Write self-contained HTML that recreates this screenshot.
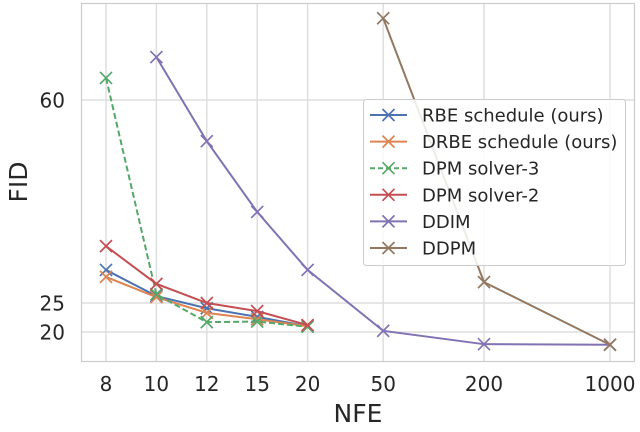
<!DOCTYPE html>
<html><head><meta charset="utf-8"><style>
html,body{margin:0;padding:0;background:#fff;}
svg{display:block;font-family:"DejaVu Sans","Liberation Sans",sans-serif;}
</style></head><body>
<svg id="chart" width="640" height="432" viewBox="0 0 640 432" xmlns="http://www.w3.org/2000/svg">
<g id="grid"></g>
<g id="series"></g>
<rect x="81.5" y="3.5" width="553" height="358" fill="none" stroke="#cccccc" stroke-width="1.2"/>
<g id="ticks"></g>
<text x="0" y="0" transform="translate(27,182) rotate(-90)" text-anchor="middle" font-size="25" fill="#262626">FID</text>
<text x="358" y="422" text-anchor="middle" font-size="25" fill="#262626">NFE</text>
<g id="legend"></g>
</svg>
<script>
const categories = ["8","10","12","15","20","50","200","1000"];
const categoryPos = [0,1,2,3,4,5.5,7.5,10];
const yTicks = [20,25,60];
const seriesNames = ["RBE schedule (ours)","DRBE schedule (ours)","DPM solver-3","DPM solver-2","DDIM","DDPM"];
const seriesColors = ["#4c72b0","#dd8452","#55a868","#c44e52","#8172b3","#937860"];
const seriesDashed = [false,false,true,false,false,false];
const rbeValues = [30.7,26.2,24.1,22.6,21.0,null,null,null];
const drbeValues = [29.5,26.0,23.3,22.2,21.0,null,null,null];
const dpm3Values = [63.8,26.5,21.7,21.8,20.9,null,null,null];
const dpm2Values = [34.8,28.3,25.0,23.6,21.2,null,null,null];
const ddimValues = [null,67.4,52.9,40.7,30.7,20.2,17.9,17.8];
const ddpmValues = [null,null,null,null,null,74.1,28.6,17.8];
const allSeries = [rbeValues,drbeValues,dpm3Values,dpm2Values,ddimValues,ddpmValues];

const NS="http://www.w3.org/2000/svg";
function xs(p){return 106+p*50.4;}
function ys(v){return 332-(v-20)*5.8;}
function mk(tag,attrs,parent){const e=document.createElementNS(NS,tag);for(const k in attrs)e.setAttribute(k,attrs[k]);parent.appendChild(e);return e;}
const grid=document.getElementById('grid'),ticks=document.getElementById('ticks'),ser=document.getElementById('series'),leg=document.getElementById('legend');
categoryPos.forEach((p,i)=>{
  const l=mk('line',{x1:xs(p),x2:xs(p),y1:3.5,y2:361.5,stroke:'#dddddd','stroke-width':1.4},grid);
  
  
  const t=mk('text',{x:xs(p),y:391,'text-anchor':'middle','font-size':20,fill:'#262626'},ticks);
  t.textContent=categories[i];
  
  
});
yTicks.forEach(v=>{
  const l=mk('line',{x1:81.5,x2:634.5,y1:ys(v),y2:ys(v),stroke:'#dddddd','stroke-width':1.4},grid);
  
  
  const t=mk('text',{x:65,y:ys(v)+7.5,'text-anchor':'end','font-size':20,fill:'#262626'},ticks);
  t.textContent=v;
  
  
});
function cross(x,y,c,parent){
  const d=`M${x-6},${y-6}L${x+6},${y+6}M${x-6},${y+6}L${x+6},${y-6}`;
  const m=mk('path',{d:d,stroke:c,'stroke-width':1.7,fill:'none'},parent);
  
  
}
allSeries.forEach((vals,si)=>{
  const pts=[];
  vals.forEach((v,i)=>{if(v!==null)pts.push([xs(categoryPos[i]),ys(v)]);});
  const pl=mk('polyline',{points:pts.map(p=>p.join(',')).join(' '),fill:'none',stroke:seriesColors[si],'stroke-width':2},ser);
  if(seriesDashed[si])pl.setAttribute('stroke-dasharray','6,3');
  
  
  pts.forEach(p=>cross(p[0],p[1],seriesColors[si],ser));
});
const box=mk('rect',{x:363.5,y:99.5,width:262,height:166,rx:3,fill:'#ffffff','fill-opacity':0.85,stroke:'#cccccc'},leg);


seriesNames.forEach((n,i)=>{
  const y=115+i*26.6;
  const g=mk('g',{},leg);
  
  
  const l=mk('line',{x1:370,x2:407,y1:y,y2:y,stroke:seriesColors[i],'stroke-width':2},g);
  if(seriesDashed[i])l.setAttribute('stroke-dasharray','5,3');
  cross(388.5,y,seriesColors[i],g);
  const t=mk('text',{x:422,y:y+6.5,'font-size':18,fill:'#262626'},g);
  t.textContent=n;
});
</script>
</body></html>
